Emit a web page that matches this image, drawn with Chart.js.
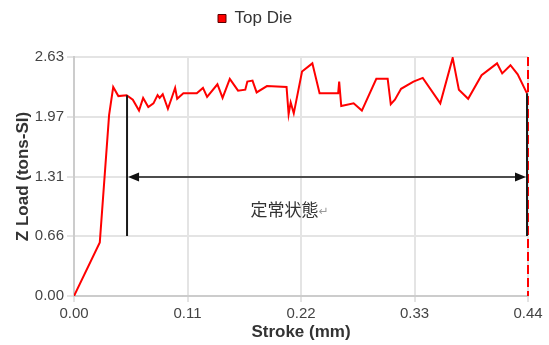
<!DOCTYPE html>
<html>
<head>
<meta charset="utf-8">
<script src="https://cdn.jsdelivr.net/npm/chart.js@4/dist/chart.umd.min.js"></script>
<style>
  html, body { margin: 0; padding: 0; background: #ffffff; }
  #wrap { width: 549px; height: 345px; }
</style>
</head>
<body>
<div id="wrap"><canvas id="chart" width="549" height="345"></canvas></div>
<script>
// Stroke position (mm) and Z load (tons-SI) for the top die
const strokeMm = [
  0.000, 0.025, 0.034, 0.038, 0.043, 0.051, 0.057, 0.063, 0.067, 0.072,
  0.077, 0.081, 0.083, 0.086, 0.091, 0.095, 0.098, 0.100, 0.106, 0.119,
  0.125, 0.129, 0.139, 0.144, 0.151, 0.159, 0.166, 0.168, 0.173, 0.177,
  0.187, 0.206, 0.208, 0.210, 0.213, 0.221, 0.231, 0.238, 0.256, 0.257,
  0.259, 0.271, 0.279, 0.293, 0.304, 0.307, 0.311, 0.317, 0.329, 0.338,
  0.355, 0.367, 0.373, 0.382, 0.395, 0.410, 0.415, 0.423, 0.430, 0.439
];
const zLoad = [
  0.00, 0.59, 1.99, 2.30, 2.20, 2.21, 2.16, 2.04, 2.18, 2.08,
  2.12, 2.21, 2.18, 2.22, 2.06, 2.19, 2.29, 2.17, 2.23, 2.23,
  2.29, 2.19, 2.33, 2.18, 2.39, 2.26, 2.27, 2.36, 2.37, 2.24,
  2.31, 2.30, 2.00, 2.13, 2.01, 2.47, 2.56, 2.23, 2.23, 2.36,
  2.09, 2.12, 2.04, 2.39, 2.39, 2.11, 2.16, 2.28, 2.36, 2.40,
  2.12, 2.62, 2.27, 2.17, 2.43, 2.56, 2.45, 2.54, 2.44, 2.23
];

// Axis ticks
const xTickValues = [0, 0.11, 0.22, 0.33, 0.44];
const xTickLabels = ['0.00', '0.11', '0.22', '0.33', '0.44'];
const yTickValues = [0, 0.6575, 1.315, 1.9725, 2.63];
const yTickLabels = ['0.00', '0.66', '1.31', '1.97', '2.63'];

// Steady-state span: start/end stroke, load at each end, arrow level, marker base
const steadyStroke = [0.0514, 0.44];
const steadyMarkerTop = [2.21, 2.23];
const steadyArrowLoad = 1.31;
const steadyMarkerBase = 0.66;
const steadyLabelPos = [0.171, 0.95];
const steadyLabel = '定常状態';

const tickFont = { family: "'Liberation Sans', Arial, sans-serif", size: 15 };
const titleFont = { family: "'Liberation Sans', Arial, sans-serif", size: 17, weight: 'bold' };

const steadyStatePlugin = {
  id: 'steadyState',
  afterLayout(chart) {
    // place the legend item slightly left of centre, near the top edge
    const lg = chart.legend;
    if (lg) {
      const w = lg.right - lg.left;
      lg.left = 208; lg.right = 208 + w;
      const h = lg.bottom - lg.top;
      lg.top = 0; lg.bottom = h;
    }
  },
  afterDatasetsDraw(chart) {
    const { ctx, scales: { x, y } } = chart;
    const xs = x.getPixelForValue(steadyStroke[0]);
    const xe = x.getPixelForValue(steadyStroke[1]);
    const yBase = y.getPixelForValue(steadyMarkerBase);
    const yArrow = y.getPixelForValue(steadyArrowLoad);
    ctx.save();

    // end-of-stroke dashed marker
    ctx.strokeStyle = '#ff0000';
    ctx.lineWidth = 2;
    ctx.setLineDash([9, 4]);
    ctx.beginPath();
    ctx.moveTo(xe, y.getPixelForValue(y.max));
    ctx.lineTo(xe, y.getPixelForValue(0));
    ctx.stroke();
    ctx.setLineDash([]);

    // vertical bounds of the steady-state span
    ctx.strokeStyle = '#1a1a1a';
    ctx.lineWidth = 2;
    ctx.beginPath();
    ctx.moveTo(xs, y.getPixelForValue(steadyMarkerTop[0]));
    ctx.lineTo(xs, yBase);
    ctx.moveTo(xe - 1, y.getPixelForValue(steadyMarkerTop[1]));
    ctx.lineTo(xe - 1, yBase);
    ctx.stroke();

    // double-headed arrow
    const ah = 11, aw = 4.5;
    const x0 = xs + 1, x1 = xe - 2;
    ctx.lineWidth = 1.5;
    ctx.beginPath();
    ctx.moveTo(x0 + ah - 1, yArrow);
    ctx.lineTo(x1 - ah + 1, yArrow);
    ctx.stroke();
    ctx.fillStyle = '#111111';
    ctx.beginPath();
    ctx.moveTo(x0, yArrow);
    ctx.lineTo(x0 + ah, yArrow - aw);
    ctx.lineTo(x0 + ah, yArrow + aw);
    ctx.closePath();
    ctx.fill();
    ctx.beginPath();
    ctx.moveTo(x1, yArrow);
    ctx.lineTo(x1 - ah, yArrow - aw);
    ctx.lineTo(x1 - ah, yArrow + aw);
    ctx.closePath();
    ctx.fill();

    // label
    const lx = x.getPixelForValue(steadyLabelPos[0]);
    const ly = y.getPixelForValue(steadyLabelPos[1]);
    ctx.font = "17px 'Noto Sans CJK JP', sans-serif";
    ctx.fillStyle = '#333333';
    ctx.textAlign = 'left';
    ctx.textBaseline = 'middle';
    ctx.fillText(steadyLabel, lx, ly);
    const tw = ctx.measureText(steadyLabel).width;
    ctx.font = "12px 'DejaVu Sans', sans-serif";
    ctx.fillStyle = '#9a9a9a';
    ctx.fillText('↵', lx + tw, ly + 2);
    ctx.restore();
  }
};

new Chart(document.getElementById('chart'), {
  type: 'line',
  data: {
    datasets: [{
      label: 'Top Die',
      data: strokeMm.map((s, i) => ({ x: s, y: zLoad[i] })),
      borderColor: '#ff0000',
      backgroundColor: '#ff0000',
      borderWidth: 2,
      pointRadius: 0,
      tension: 0
    }]
  },
  options: {
    responsive: false,
    animation: false,
    layout: { padding: { top: 20, right: 21, left: 0, bottom: 0 } },
    plugins: {
      legend: {
        align: 'start',
        labels: {
          boxWidth: 8,
          boxHeight: 8,
          padding: 10,
          color: '#333333',
          font: { family: "'Liberation Sans', Arial, sans-serif", size: 17 },
          generateLabels(chart) {
            return Chart.defaults.plugins.legend.labels.generateLabels(chart).map(it => ({
              ...it, fillStyle: '#ff0000', strokeStyle: '#5a0000', lineWidth: 1
            }));
          }
        }
      },
      tooltip: { enabled: false }
    },
    scales: {
      x: {
        type: 'linear',
        min: 0,
        max: 0.44,
        afterBuildTicks(axis) { axis.ticks = xTickValues.map(v => ({ value: v })); },
        afterFit(axis) { axis.height = 49; },
        ticks: {
          callback: (v, i) => xTickLabels[i],
          font: tickFont,
          color: '#444444',
          padding: 3,
          maxRotation: 0
        },
        grid: { color: '#e4e4e4', lineWidth: 2, tickColor: '#c8c8c8', tickLength: 6, tickWidth: 1 },
        border: { color: '#cccccc', width: 2 },
        title: { display: true, text: 'Stroke (mm)', font: titleFont, color: '#333333', padding: { top: 0, bottom: 2 } }
      },
      y: {
        type: 'linear',
        min: 0,
        max: 2.63,
        afterBuildTicks(axis) { axis.ticks = yTickValues.map(v => ({ value: v })); },
        afterFit(axis) { axis.width = 74; },
        ticks: {
          callback: (v, i) => yTickLabels[i],
          font: tickFont,
          color: '#444444',
          padding: 3
        },
        grid: { color: '#e4e4e4', lineWidth: 2, tickColor: '#c8c8c8', tickLength: 7, tickWidth: 1 },
        border: { color: '#cccccc', width: 2 },
        title: { display: true, text: 'Z Load (tons-SI)', font: titleFont, color: '#333333', padding: { top: 13, bottom: 0 } }
      }
    }
  },
  plugins: [steadyStatePlugin]
});
</script>
</body>
</html>
